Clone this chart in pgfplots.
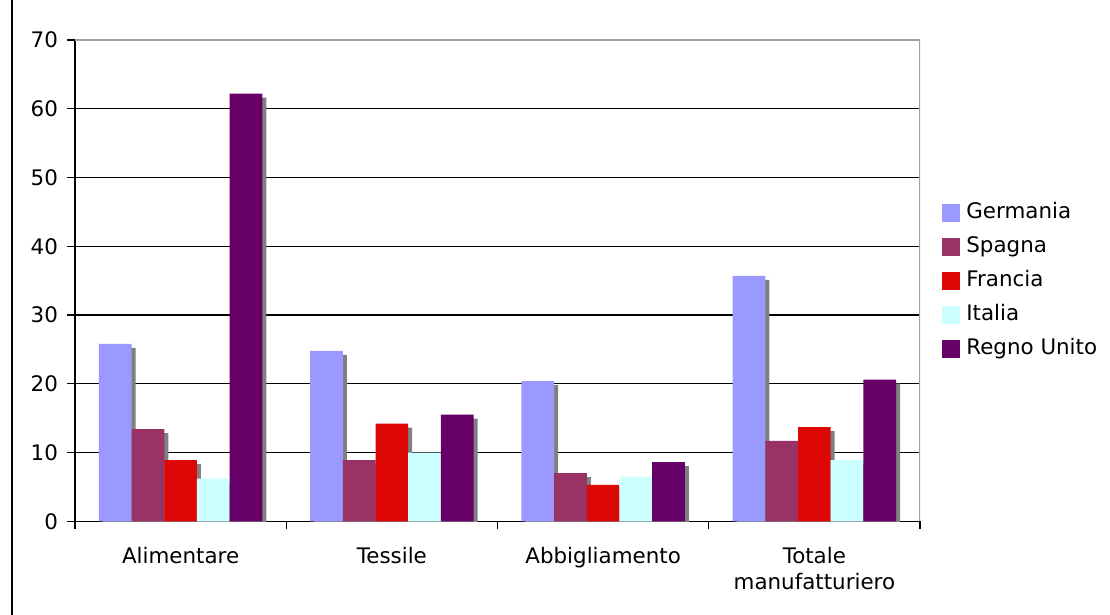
\documentclass[border=0pt]{standalone}
\usepackage{fontspec}
\setmainfont{DejaVu Sans}
\usepackage{pgfplots}
\pgfplotsset{compat=1.18}
\usetikzlibrary{shadows}

\definecolor{germania}{HTML}{9999FF}
\definecolor{spagna}{HTML}{993366}
\definecolor{francia}{HTML}{DD0806}
\definecolor{italia}{HTML}{CCFFFF}
\definecolor{regno}{HTML}{660066}
\definecolor{shadowgray}{HTML}{808080}
\definecolor{framegray}{HTML}{A0A0A0}

% one table per country: x = sector index, y = value
\pgfplotstableread{
x y
0 25.8
1 24.8
2 20.4
3 35.7
}\germaniadata
\pgfplotstableread{
x y
0 13.4
1 8.9
2 7.0
3 11.7
}\spagnadata
\pgfplotstableread{
x y
0 8.9
1 14.2
2 5.3
3 13.7
}\franciadata
\pgfplotstableread{
x y
0 6.2
1 10.0
2 6.5
3 8.9
}\italiadata
\pgfplotstableread{
x y
0 62.2
1 15.5
2 8.6
3 20.6
}\regnodata

\pgfplotsset{
  legsq/.style={legend image code/.code={\fill[##1, draw=none] (0pt,-4.5pt) rectangle (9pt,4.5pt);}},
  shadowbar/.style={draw=none, forget plot, bar shift=#1,
    general shadow={fill=shadowgray, opacity=1, shadow xshift=2pt, shadow yshift=-2pt}},
}

\begin{document}
\begin{tikzpicture}
\useasboundingbox (0,0) rectangle (555pt,307.5pt);
\draw[line width=0.6pt] (6pt,0) -- (6pt,307.5pt);
\begin{axis}[
  at={(37.5pt,46.85pt)}, anchor=south west,
  scale only axis, width=422.5pt, height=240.65pt,
  xmin=-0.5, xmax=3.5, ymin=0, ymax=70,
  ytick={0,10,...,70},
  xtick={0,1,2,3},
  xticklabels={Alimentare, Tessile, Abbigliamento, {Totale\\manufatturiero}},
  minor xtick={-0.5,0.5,1.5,2.5,3.5},
  major x tick style={draw=none},
  tick align=outside,
  major tick length=4pt, minor tick length=4pt,
  tick style={black, line width=0.6pt},
  ymajorgrids, major grid style={black, line width=0.55pt},
  axis x line*=bottom, axis y line*=left,
  axis line style={black, line width=0.6pt, -},
  ybar, bar width=16.35pt,
  font=\fontsize{10.7}{13}\selectfont,
  /pgf/number format/assume math mode=true,
  xticklabel style={align=center, yshift=-5.5pt, font=\fontsize{10.7}{13}\selectfont},
  yticklabel style={xshift=-1pt, font=\fontsize{10.7}{13}\selectfont},
  legend cell align=left,
  legend style={draw=none, fill=none, at={(1,0.5)}, anchor=west, xshift=11pt,
    inner sep=0pt, row sep=7pt,
    nodes={inner sep=0pt, text height=8pt, text depth=2pt, font=\fontsize{10.7}{13}\selectfont}},
]
\addplot[shadowbar=-32.7pt, fill=germania] table {\germaniadata};
\addplot[shadowbar=-16.35pt, fill=spagna]  table {\spagnadata};
\addplot[shadowbar=0pt, fill=francia]      table {\franciadata};
\addplot[shadowbar=16.35pt, fill=italia]   table {\italiadata};
\addplot[shadowbar=32.7pt, fill=regno]     table {\regnodata};

\addlegendimage{legsq, fill=germania}\addlegendentry{\hspace{3pt}Germania}
\addlegendimage{legsq, fill=spagna}\addlegendentry{\hspace{3pt}Spagna}
\addlegendimage{legsq, fill=francia}\addlegendentry{\hspace{3pt}Francia}
\addlegendimage{legsq, fill=italia}\addlegendentry{\hspace{3pt}Italia}
\addlegendimage{legsq, fill=regno}\addlegendentry{\hspace{3pt}Regno Unito}

% plot-area frame: grey on top and right
\draw[framegray, line width=0.6pt] (rel axis cs:0,1) -- (rel axis cs:1,1) -- (rel axis cs:1,0);
\end{axis}
\end{tikzpicture}
\end{document}
